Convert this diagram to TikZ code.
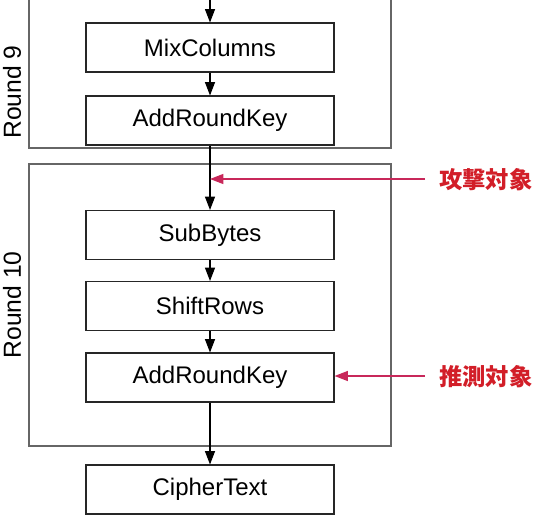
\documentclass[tikz,border=0pt]{standalone}
\usepackage{fontspec}
\setmainfont{Liberation Sans}
\newfontfamily\jpfont{Noto Sans CJK JP}
\usetikzlibrary{arrows.meta}
\definecolor{atkline}{RGB}{200,40,90}
\definecolor{labelred}{RGB}{210,30,40}
\tikzset{
  stage/.style={draw=black!85,line width=0.8pt,minimum width=186pt,minimum height=36.75pt,inner sep=0pt,font=\fontsize{18}{20}\selectfont},
  roundbox/.style={draw=black!60,line width=0.8pt},
  flow/.style={-{Triangle[length=10pt,width=7.5pt]},line width=0.8pt,black},
  target/.style={-{Triangle[length=10pt,width=7.5pt]},line width=0.9pt,atkline},
  tag/.style={anchor=west,text=labelred,font=\jpfont\bfseries\fontsize{17.5}{18}\selectfont,inner sep=0pt},
  roundlabel/.style={rotate=90,font=\fontsize{18.5}{20}\selectfont,inner sep=0pt}
}
\begin{document}
\begin{tikzpicture}[x=0.75pt,y=-0.75pt]
    \useasboundingbox (0,0) rectangle (534,514);
    \clip (0,0) rectangle (534,514);
    % round boxes
    \draw[roundbox] (29,-20) rectangle (391,148);
    \draw[roundbox] (29,164) rectangle (391,446);
    \node[roundlabel] (r9) at (12,92) {Round 9};
    \node[roundlabel] (r10) at (12,305) {Round 10};
    % stages
    \node[stage] (mix) at (210,47.5) {MixColumns};
    \node[stage] (ark9) at (210,120.5) {AddRoundKey};
    \node[stage] (sub) at (210,235) {SubBytes};
    \node[stage] (shift) at (210,306) {ShiftRows};
    \node[stage] (ark10) at (210,377.5) {AddRoundKey};
    \node[stage] (ct) at (210,489.5) {CipherText};
    \coordinate (in) at (210,-2);
    \draw[flow] (in) -- (mix);
    \draw[flow] (mix) -- (ark9);
    \draw[flow] (ark9) -- (sub);
    \draw[flow] (sub) -- (shift);
    \draw[flow] (shift) -- (ark10);
    \draw[flow] (ark10) -- (ct);
    % targets
    \coordinate (atkfrom) at (425,179);
    \coordinate (atkto) at (210,179);
    \coordinate (estfrom) at (425,376);
    \draw[target] (atkfrom) -- (atkto);
    \draw[target] (estfrom) -- (estfrom -| ark10.east);
    \node[tag] (atk) at (439,180) {攻撃対象};
    \node[tag] (est) at (439,377) {推測対象};
\end{tikzpicture}
\end{document}
